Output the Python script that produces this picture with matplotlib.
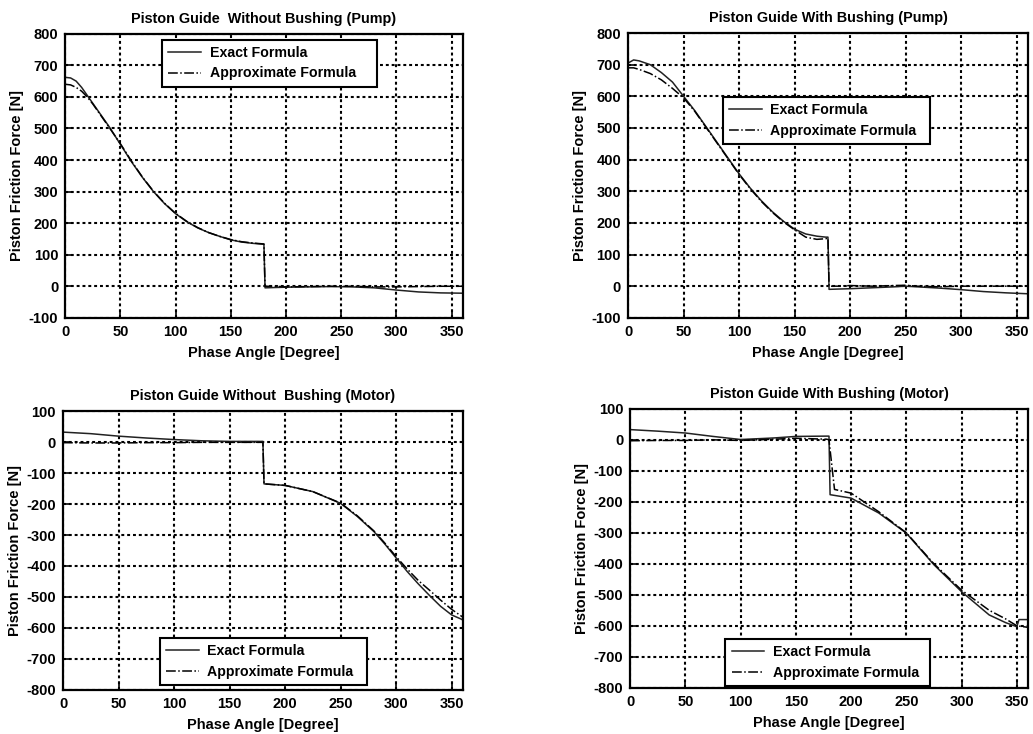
import matplotlib
matplotlib.use("Agg")
import matplotlib.pyplot as plt
import numpy as np

plt.rcParams['font.family'] = ['Liberation Sans', 'DejaVu Sans']
plt.rcParams['axes.unicode_minus'] = False

# ---------------- data ----------------
# Pump, without bushing
tl_ex_x = [0, 5, 10, 15, 20, 25, 30, 40, 50, 60, 70, 80, 90, 100, 110, 120, 130, 140, 150, 160, 170, 180, 181, 190, 200, 220, 240, 260, 280, 300, 320, 340, 360]
tl_ex_y = [662, 660, 650, 630, 605, 580, 555, 505, 450, 395, 345, 300, 262, 230, 205, 185, 170, 158, 147, 140, 136, 133, -5, -4, -3, -2, -1, -2, -5, -12, -18, -21, -22]
tl_ap_x = [0, 5, 10, 15, 20, 25, 30, 40, 50, 60, 70, 80, 90, 100, 110, 120, 130, 140, 150, 160, 170, 180, 181, 190, 200, 220, 240, 260, 280, 300, 320, 340, 360]
tl_ap_y = [640, 638, 630, 618, 600, 578, 553, 503, 452, 397, 346, 301, 263, 231, 206, 186, 170, 158, 148, 141, 137, 134, 0, 0, -2, -1, 0, 0, -2, -2, -1, 0, 0]

# Pump, with bushing
tr_ex_x = [0, 5, 10, 20, 30, 40, 50, 60, 70, 80, 90, 100, 110, 120, 130, 140, 150, 160, 170, 178, 180, 181, 190, 200, 220, 240, 250, 260, 280, 300, 320, 340, 360]
tr_ex_y = [705, 715, 712, 700, 675, 645, 600, 555, 505, 455, 405, 355, 310, 270, 235, 205, 180, 165, 158, 155, 155, -10, -9, -8, -5, -2, 0, -2, -6, -11, -17, -21, -24]
tr_ap_x = [0, 5, 10, 20, 30, 40, 50, 60, 70, 80, 90, 100, 110, 120, 130, 140, 150, 160, 170, 178, 180, 181, 190, 200, 220, 240, 250, 260, 280, 300, 320, 340, 360]
tr_ap_y = [690, 690, 685, 672, 652, 625, 595, 553, 503, 453, 403, 353, 308, 268, 233, 203, 178, 155, 148, 150, 152, 0, 0, 2, 0, 2, 3, 0, -2, 0, 0, 0, 0]

# Motor, without bushing
bl_ex_x = [0, 25, 50, 75, 100, 125, 150, 180, 181, 200, 225, 250, 265, 280, 290, 300, 310, 320, 330, 340, 350, 359, 360, 360]
bl_ex_y = [32, 27, 19, 13, 8, 4, 2, 2, -135, -140, -160, -198, -240, -289, -330, -374, -418, -458, -495, -530, -558, -572, -575, -290]
bl_ap_x = [0, 25, 50, 75, 100, 125, 150, 180, 181, 200, 225, 250, 265, 280, 290, 300, 310, 320, 330, 340, 350, 360]
bl_ap_y = [-2, -3, -3, -2, -2, -1, -1, -1, -135, -140, -160, -197, -238, -287, -327, -370, -410, -447, -478, -510, -540, -565]

# Motor, with bushing
br_ex_x = [0, 25, 50, 75, 100, 130, 150, 178, 180, 181, 200, 225, 250, 275, 300, 325, 340, 350, 352, 360]
br_ex_y = [33, 28, 22, 11, 1, 6, 11, 12, 12, -177, -188, -236, -301, -403, -490, -565, -590, -603, -580, -580]
br_ap_x = [0, 25, 50, 75, 100, 130, 150, 178, 180, 185, 200, 225, 250, 275, 300, 325, 340, 350, 360]
br_ap_y = [-3, -2, -2, 0, -2, 2, 5, 2, 0, -160, -172, -232, -300, -400, -485, -550, -578, -600, -605]

titles = ["Piston Guide  Without Bushing (Pump)", "Piston Guide With Bushing (Pump)",
          "Piston Guide Without  Bushing (Motor)", "Piston Guide With Bushing (Motor)"]
xlabel = "Phase Angle [Degree]"
ylabel = "Piston Friction Force [N]"
legend_labels = ["Exact Formula", "Approximate Formula"]
x_ticks = [0, 50, 100, 150, 200, 250, 300, 350]
pump_yticks = list(range(-100, 801, 100))
motor_yticks = list(range(-800, 101, 100))

# ---------------- figure ----------------
fig = plt.figure(figsize=(10.33, 7.34), dpi=100)
rects = [
    [0.063, 0.567, 0.385, 0.387],
    [0.608, 0.567, 0.387, 0.388],
    [0.061, 0.060, 0.387, 0.380],
    [0.610, 0.063, 0.385, 0.380],
]
# legend boxes (x0, y0, width, height) in axes fraction
legend_boxes = [
    (0.244, 0.813, 0.540, 0.166),
    (0.2375, 0.612, 0.518, 0.163),
    (0.2425, 0.025, 0.518, 0.155),
    (0.239, 0.011, 0.515, 0.160),
]
datasets = [
    (tl_ex_x, tl_ex_y, tl_ap_x, tl_ap_y, pump_yticks),
    (tr_ex_x, tr_ex_y, tr_ap_x, tr_ap_y, pump_yticks),
    (bl_ex_x, bl_ex_y, bl_ap_x, bl_ap_y, motor_yticks),
    (br_ex_x, br_ex_y, br_ap_x, br_ap_y, motor_yticks),
]

for rect, (ex_x, ex_y, ap_x, ap_y, yt), title, lb in zip(rects, datasets, titles, legend_boxes):
    ax = fig.add_axes(rect)
    ax.plot(ex_x, ex_y, '-', color='#222222', lw=1.1, label=legend_labels[0])
    ax.plot(ap_x, ap_y, '-.', color='black', lw=1.1, label=legend_labels[1])
    ax.set_xlim(0, 360)
    ax.set_ylim(yt[0], yt[-1])
    ax.set_xticks(x_ticks)
    ax.set_yticks(yt)
    ax.grid(True, color='black', linestyle=(0, (1.4, 1.4)), linewidth=1.5)
    ax.tick_params(direction='in', length=4, width=1.2, labelsize=10.5, pad=5)
    for lab in ax.get_xticklabels() + ax.get_yticklabels():
        lab.set_fontweight('bold')
    for sp in ax.spines.values():
        sp.set_linewidth(1.6)
    ax.set_title(title, fontsize=10.4, fontweight='bold', pad=8)
    ax.set_xlabel(xlabel, fontsize=10.5, fontweight='bold', labelpad=5)
    ax.set_ylabel(ylabel, fontsize=10.5, fontweight='bold', labelpad=3)
    leg = ax.legend(loc='center left', bbox_to_anchor=lb, mode='expand', fancybox=False,
                    framealpha=1, edgecolor='black', handlelength=2.3,
                    borderpad=0.45, labelspacing=0.45, handletextpad=0.6,
                    borderaxespad=0.0,
                    prop={'weight': 'bold', 'size': 10.2})
    leg.get_frame().set_linewidth(1.5)

fig.savefig("out.png", dpi=100)
